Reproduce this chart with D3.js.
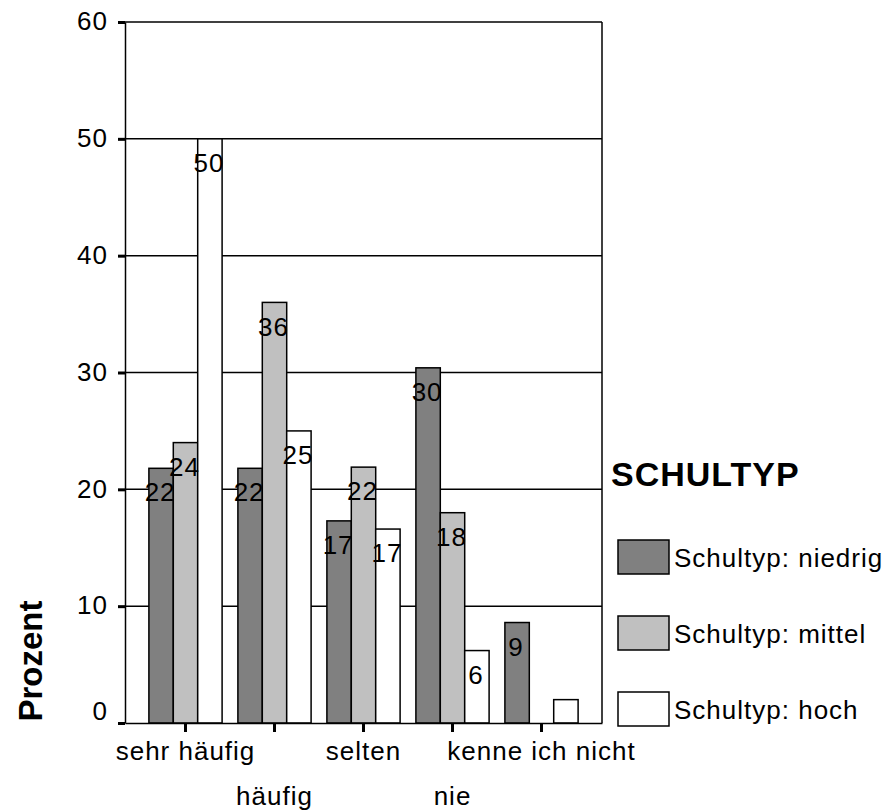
<!DOCTYPE html>
<html>
<head>
<meta charset="utf-8">
<script src="https://cdn.jsdelivr.net/npm/d3@7"></script>
<style>
  html, body { margin: 0; padding: 0; background: #fff; }
  svg { display: block; }
  text { font-family: "Liberation Sans", Arial, sans-serif; fill: #000; }
</style>
</head>
<body>
<script>
// ---- data ----
const categories = ["sehr häufig", "häufig", "selten", "nie", "kenne ich nicht"];
const seriesNames = ["Schultyp: niedrig", "Schultyp: mittel", "Schultyp: hoch"];
const niedrig = [21.8, 21.8, 17.3, 30.4, 8.6];
const mittel  = [24.0, 36.0, 21.9, 18.0, 0];
const hoch    = [50.0, 25.0, 16.6, 6.2, 2.0];
const niedrigLabels = ["22", "22", "17", "30", "9"];
const mittelLabels  = ["24", "36", "22", "18", null];
const hochLabels    = ["50", "25", "17", "6", null];
const yTicks = [0, 10, 20, 30, 40, 50, 60];
const legendTitle = "SCHULTYP";
const yTitle = "Prozent";
const seriesColors = ["#808080", "#c0c0c0", "#ffffff"];

// ---- layout ----
const W = 884, H = 812;
const pLeft = 125, pRight = 602, pTop = 22, pBottom = 723;

const svg = d3.select("body").append("svg").attr("width", W).attr("height", H);

const y = d3.scaleLinear().domain([0, 60]).range([pBottom, pTop]);
const x = d3.scaleBand().domain(categories).range([pLeft, pRight])
  .paddingInner(0.1775).paddingOuter(0.2685);
const xs = d3.scaleBand().domain(seriesNames).range([0, x.bandwidth()]).padding(0);

const values = [niedrig, mittel, hoch];
const labels = [niedrigLabels, mittelLabels, hochLabels];
const rows = [];
categories.forEach((c, i) => {
  seriesNames.forEach((s, j) => {
    rows.push({cat: c, ser: s, j: j, v: values[j][i], lab: labels[j][i]});
  });
});

// gridlines
svg.append("g").selectAll("line")
  .data(yTicks.filter(t => t > 0))
  .join("line")
  .attr("x1", pLeft).attr("x2", pRight)
  .attr("y1", d => y(d)).attr("y2", d => y(d))
  .attr("stroke", "#000").attr("stroke-width", 1.5);

// right border
svg.append("line")
  .attr("x1", pRight).attr("x2", pRight).attr("y1", y(60)).attr("y2", y(0))
  .attr("stroke", "#000").attr("stroke-width", 1.5);

// bars
svg.append("g").selectAll("rect")
  .data(rows.filter(d => d.v > 0))
  .join("rect")
  .attr("x", d => x(d.cat) + xs(d.ser))
  .attr("width", xs.bandwidth())
  .attr("y", d => y(d.v))
  .attr("height", d => y(0) - y(d.v))
  .attr("fill", d => seriesColors[d.j])
  .attr("stroke", "#000").attr("stroke-width", 1.5);

// value labels
svg.append("g").selectAll("text")
  .data(rows.filter(d => d.lab))
  .join("text")
  .attr("x", d => x(d.cat) + xs(d.ser) + xs.bandwidth() / 2 - 1)
  .attr("y", d => y(d.v) + 24)
  .attr("dy", "0.35em")
  .attr("text-anchor", "middle")
  .style("font-size", "26px")
  .style("letter-spacing", "1px")
  .text(d => d.lab);

// y axis
const yAxis = svg.append("g")
  .attr("transform", `translate(${pLeft},0)`)
  .call(d3.axisLeft(y).tickValues(yTicks).tickSize(7).tickPadding(10).tickSizeOuter(0));
yAxis.attr("font-size", null).attr("font-family", null);
yAxis.select(".domain").attr("stroke", "#000").attr("stroke-width", 1.5);
yAxis.selectAll(".tick line").attr("stroke", "#000").attr("stroke-width", 3);
yAxis.selectAll(".tick text")
  .style("font-size", "26px")
  .style("letter-spacing", "1px")
  .attr("dy", d => d === 0 ? "-0.15em" : "0.3em");

// x axis
const xAxis = svg.append("g")
  .attr("transform", `translate(0,${pBottom})`)
  .call(d3.axisBottom(x).tickSize(9).tickSizeOuter(0));
xAxis.attr("font-size", null).attr("font-family", null);
xAxis.select(".domain").attr("stroke", "#000").attr("stroke-width", 1.5);
xAxis.selectAll(".tick line").attr("stroke", "#000").attr("stroke-width", 3);
xAxis.selectAll(".tick text")
  .style("font-size", "26px")
  .style("letter-spacing", "1px")
  .attr("dy", null)
  .attr("y", (d, i) => i % 2 === 0 ? 37 : 82);

// y title
svg.append("text")
  .attr("transform", `translate(42,661) rotate(-90)`)
  .attr("text-anchor", "middle")
  .style("font-size", "33px")
  .style("font-weight", "bold")
  .text(yTitle);

// legend
const lg = svg.append("g");
lg.append("text")
  .attr("x", 611).attr("y", 486)
  .style("font-size", "34px")
  .style("font-weight", "bold")
  .style("letter-spacing", "1px")
  .text(legendTitle);
const legY = d3.scalePoint().domain(seriesNames).range([540, 692]);
const items = lg.selectAll("g.item").data(seriesNames).join("g").attr("class", "item");
items.append("rect")
  .attr("x", 618).attr("y", d => legY(d))
  .attr("width", 51).attr("height", 34)
  .attr("fill", (d, i) => seriesColors[i])
  .attr("stroke", "#000").attr("stroke-width", 1.5);
items.append("text")
  .attr("x", 674).attr("y", d => legY(d) + 27)
  .style("font-size", "26px")
  .style("letter-spacing", "1px")
  .text(d => d);
</script>
</body>
</html>
